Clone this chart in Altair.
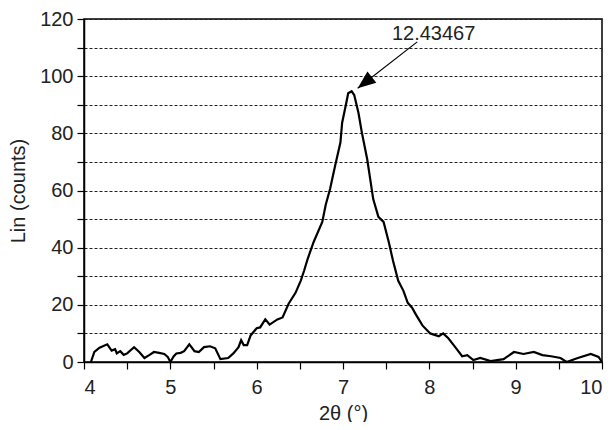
import altair as alt
import pandas as pd

two_theta = [4.08, 4.12, 4.18, 4.27, 4.32, 4.36, 4.38, 4.42, 4.46, 4.50, 4.58, 4.64, 4.70, 4.76, 4.81, 4.87,
             4.93, 4.97, 5.0, 5.04, 5.07, 5.12, 5.16, 5.22, 5.28, 5.33, 5.39, 5.46, 5.52, 5.58, 5.67, 5.73,
             5.79, 5.82, 5.85, 5.89, 5.93, 6.0, 6.04, 6.10, 6.15, 6.24, 6.30, 6.37, 6.45, 6.51, 6.55, 6.59,
             6.66, 6.76, 6.80, 6.85, 6.91, 6.97, 6.99, 7.03, 7.06, 7.10, 7.13, 7.18, 7.22, 7.28, 7.32, 7.35,
             7.41, 7.47, 7.53, 7.58, 7.64, 7.70, 7.75, 7.80, 7.85, 7.92, 8.01, 8.11, 8.16, 8.22, 8.30, 8.38,
             8.44, 8.51, 8.59, 8.71, 8.86, 8.98, 9.09, 9.21, 9.31, 9.41, 9.52, 9.59, 9.72, 9.87, 9.96, 10.0]
counts = [0, 3.5, 5, 6.2, 4, 4.5, 3, 3.8, 2.5, 3, 5.2, 3.5, 1.4, 2.5, 3.5, 3.2,
          2.8, 1.8, 0, 2, 3, 3.2, 3.8, 6.2, 3.8, 3.5, 5.2, 5.5, 4.8, 1, 1.4, 3,
          5.2, 7.6, 5.9, 5.9, 9.3, 11.8, 12.1, 14.9, 13.1, 14.9, 15.6, 20.4, 24.2, 28.4, 32, 36,
          42, 49, 55, 60.5, 68.8, 76.8, 83.7, 89.5, 94, 94.7, 93.4, 87, 80, 71, 63, 57,
          50.8, 49, 42, 35.3, 28.4, 24.9, 20.7, 19, 16.3, 12.8, 10, 9, 10, 8.3, 5.2, 2,
          2.4, 0.7, 1.4, 0.3, 1, 3.5, 2.8, 3.5, 2.4, 2, 1.4, 0, 1.4, 2.8, 1.8, 0]

x_ticks = [4, 4.5, 5, 5.5, 6, 6.5, 7, 7.5, 8, 8.5, 9, 9.5, 10]
y_ticks = [0, 10, 20, 30, 40, 50, 60, 70, 80, 90, 100, 110, 120]

peak_label = ["12.43467"]
label_x = [8.05]
label_y = [112.7]
arrow_tail_x = [7.86]
arrow_tail_y = [112.0]
arrow_tip_x = [7.17]
arrow_tip_y = [95.8]

df = pd.DataFrame({"x": two_theta, "y": counts})
ann = pd.DataFrame({"label": peak_label, "lx": label_x, "ly": label_y,
                    "tx": arrow_tail_x, "ty": arrow_tail_y,
                    "hx": arrow_tip_x, "hy": arrow_tip_y})

FONT = "Liberation Sans"
xscale = alt.Scale(domain=[4, 10], nice=False, zero=False)
yscale = alt.Scale(domain=[0, 120], nice=False)

xaxis = alt.Axis(
    title="2θ (°)", values=x_ticks,
    labelExpr="datum.value % 1 == 0 ? format(datum.value, 'd') : ''",
    grid=False, tickSize=7, labelPadding=8, titlePadding=6)
yaxis = alt.Axis(
    title="Lin (counts)", values=y_ticks,
    labelExpr="datum.value % 20 == 0 ? format(datum.value, 'd') : ''",
    grid=True, gridDash=[3, 2], gridColor="#222222", gridWidth=1,
    tickSize=7, labelPadding=4, titlePadding=11)

line = alt.Chart(df).mark_line(color="black", strokeWidth=2.2).encode(
    x=alt.X("x:Q", scale=xscale, axis=xaxis),
    y=alt.Y("y:Q", scale=yscale, axis=yaxis),
)

rule = alt.Chart(ann).mark_rule(color="black", strokeWidth=1.2).encode(
    x=alt.X("tx:Q", scale=xscale, axis=xaxis), y=alt.Y("ty:Q", scale=yscale, axis=yaxis),
    x2="hx:Q", y2="hy:Q")

head = alt.Chart(ann).mark_point(
    shape="M0,0L-0.8,2L0.8,2Z", filled=True, color="black", opacity=1,
    size=324, angle=232, strokeWidth=0).encode(
    x=alt.X("hx:Q", scale=xscale, axis=xaxis), y=alt.Y("hy:Q", scale=yscale, axis=yaxis))

text = alt.Chart(ann).mark_text(
    font=FONT, fontSize=20, color="#222222", align="center", baseline="alphabetic").encode(
    x=alt.X("lx:Q", scale=xscale, axis=xaxis), y=alt.Y("ly:Q", scale=yscale, axis=yaxis),
    text="label:N")

chart = alt.layer(line, rule, head, text).properties(
    width=518, height=343,
    autosize=alt.AutoSizeParams(type="none"),
    padding={"left": 76, "top": 11, "right": 4, "bottom": 60},
).configure_view(
    stroke="black", strokeWidth=1.5
).configure_axis(
    labelFont=FONT, titleFont=FONT, labelFontSize=20, titleFontSize=20,
    titleFontWeight="normal", labelColor="#222222", titleColor="#222222",
    domainColor="black", domainWidth=1.5, tickColor="black", tickWidth=1.2,
)

chart.save("out.html", embed_options={"renderer": "svg", "actions": False})
